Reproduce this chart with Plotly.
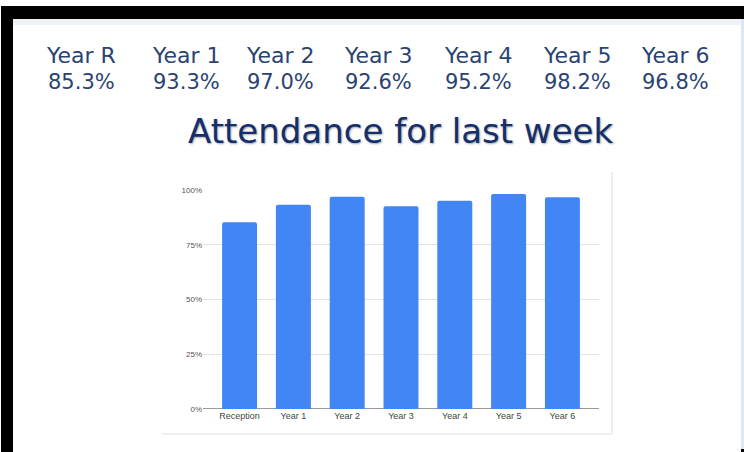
import plotly.graph_objects as go

# ---- data ----
header_labels = ["Year R", "Year 1", "Year 2", "Year 3", "Year 4", "Year 5", "Year 6"]
header_values = ["85.3%", "93.3%", "97.0%", "92.6%", "95.2%", "98.2%", "96.8%"]
categories = ["Reception", "Year 1", "Year 2", "Year 3", "Year 4", "Year 5", "Year 6"]
attendance = [85.3, 93.3, 97.0, 92.6, 95.2, 98.2, 96.8]
y_ticks = [0, 25, 50, 75, 100]
y_tick_labels = ["0%", "25%", "50%", "75%", "100%"]
title_text = "Attendance for last week"

W, H = 744, 452
def fx(x):
    return x / W
def fy(y):
    return 1 - y / H

fig = go.Figure()
fig.add_trace(go.Bar(
    x=categories, y=attendance,
    marker=dict(color="#4285F4", line=dict(width=0), cornerradius=2),
    width=0.65, hoverinfo="skip",
))

shapes = [
    # black frame
    dict(type="rect", xref="paper", yref="paper", x0=fx(1), x1=fx(744), y0=fy(19), y1=fy(6),
         fillcolor="black", line=dict(width=0), layer="above"),
    dict(type="rect", xref="paper", yref="paper", x0=fx(1), x1=fx(13), y0=fy(452), y1=fy(6),
         fillcolor="black", line=dict(width=0), layer="above"),
    dict(type="rect", xref="paper", yref="paper", x0=fx(13), x1=fx(741), y0=fy(25), y1=fy(19),
         fillcolor="#eef1f5", line=dict(width=0), layer="below"),
    dict(type="rect", xref="paper", yref="paper", x0=fx(741), x1=fx(744), y0=fy(449), y1=fy(19),
         fillcolor="#dce7f3", line=dict(width=0), layer="below"),
    dict(type="rect", xref="paper", yref="paper", x0=fx(741), x1=fx(744), y0=fy(452), y1=fy(449),
         fillcolor="black", line=dict(width=0), layer="below"),
    # chart card edges
    dict(type="line", xref="paper", yref="paper", x0=fx(612), x1=fx(612), y0=fy(434), y1=fy(172),
         line=dict(color="#ededed", width=2), layer="below"),
    dict(type="line", xref="paper", yref="paper", x0=fx(162), x1=fx(612), y0=fy(434), y1=fy(434),
         line=dict(color="#f0f0f0", width=2), layer="below"),
]

annotations = []
header_x = [81, 186, 280, 378, 478, 577, 675]
for cx, lab, val in zip(header_x, header_labels, header_values):
    annotations.append(dict(x=fx(cx), y=fy(55), xref="paper", yref="paper", text=lab,
                            showarrow=False, xanchor="center", yanchor="middle",
                            font=dict(family="DejaVu Sans", size=22, color="#2a4372")))
    annotations.append(dict(x=fx(cx), y=fy(82), xref="paper", yref="paper", text=val,
                            showarrow=False, xanchor="center", yanchor="middle",
                            font=dict(family="DejaVu Sans", size=21, color="#2a4372")))
annotations.append(dict(x=fx(401), y=fy(131), xref="paper", yref="paper", text=title_text,
                        showarrow=False, xanchor="center", yanchor="middle",
                        font=dict(family="DejaVu Sans", size=34, color="#142f6b",
                                  shadow="1px 1px 2px rgba(0,0,0,0.35)")))

fig.update_layout(
    width=W, height=H,
    margin=dict(l=0, r=0, t=0, b=0),
    paper_bgcolor="white", plot_bgcolor="white",
    showlegend=False,
    shapes=shapes, annotations=annotations,
    xaxis=dict(domain=[fx(203), fx(599)], range=[-0.68, 6.68], type="category",
               showgrid=False, showline=False, ticks="", fixedrange=True, automargin=False,
               tickfont=dict(family="Liberation Sans", size=9, color="#444444")),
    yaxis=dict(domain=[fy(409), fy(190) + 0.0006], range=[0, 100.2], automargin=False,
               tickvals=y_ticks, ticktext=y_tick_labels, showgrid=True, gridcolor="#e3e3e3", gridwidth=1,
               zeroline=True, zerolinecolor="#9a9a9a", zerolinewidth=1, showline=False,
               ticks="", fixedrange=True,
               tickfont=dict(family="Liberation Sans", size=8, color="#555555")),
)

fig.write_html("out.html", config={"displayModeBar": False},
               post_script="document.body.style.margin='0';")
